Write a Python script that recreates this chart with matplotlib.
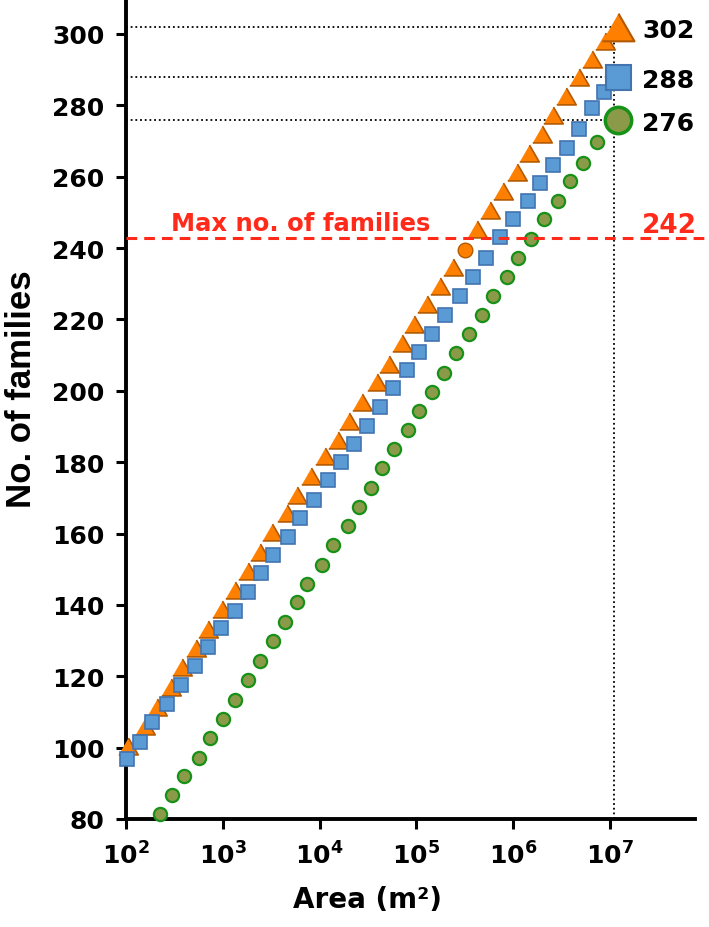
import matplotlib
matplotlib.use("Agg")
import matplotlib.pyplot as plt
from matplotlib.ticker import NullLocator
import numpy as np

# log10(area) and number of families
tri_log = [2.02, 2.20, 2.32, 2.46, 2.58, 2.72, 2.85, 2.99, 3.13, 3.26, 3.39, 3.51, 3.66,
           3.77, 3.91, 4.06, 4.19, 4.31, 4.44, 4.59, 4.72, 4.85, 4.98, 5.11, 5.25, 5.38,
           5.63, 5.76, 5.90, 6.04, 6.17, 6.30, 6.41, 6.55, 6.68, 6.82, 6.95]
tri_y = [100.4, 106.0, 111.4, 117.0, 122.6, 127.9, 133.2, 138.8, 144.2, 149.5, 154.8, 160.4,
         165.8, 170.8, 176.1, 181.7, 186.2, 191.5, 196.9, 202.5, 207.5, 213.4, 218.7, 224.3,
         229.4, 234.7, 245.3, 250.7, 256.0, 261.3, 266.6, 272.0, 277.3, 282.6, 287.9, 293.0,
         298.0]
tri_cross_log = 5.50
tri_cross_y = 239.5

sq_log = [2.01, 2.14, 2.27, 2.42, 2.57, 2.71, 2.85, 2.98, 3.13, 3.26, 3.40, 3.52, 3.67, 3.80,
          3.94, 4.09, 4.22, 4.36, 4.49, 4.63, 4.76, 4.90, 5.03, 5.16, 5.30, 5.45, 5.59, 5.72,
          5.87, 6.00, 6.15, 6.28, 6.41, 6.56, 6.68, 6.82, 6.94]
sq_y = [96.8, 101.6, 107.2, 112.2, 117.5, 122.9, 128.2, 133.5, 138.3, 143.6, 148.9, 154.0,
        159.0, 164.3, 169.4, 175.0, 180.0, 185.1, 190.1, 195.5, 200.8, 205.8, 210.9, 215.9,
        221.2, 226.6, 231.9, 237.2, 243.1, 248.1, 253.2, 258.2, 263.3, 268.0, 273.4, 279.3,
        283.7]

circ_log = [2.35, 2.48, 2.60, 2.75, 2.87, 3.00, 3.13, 3.26, 3.39, 3.52, 3.64, 3.77, 3.87,
            4.03, 4.14, 4.29, 4.41, 4.53, 4.65, 4.77, 4.91, 5.03, 5.16, 5.29, 5.41, 5.54,
            5.68, 5.79, 5.94, 6.05, 6.19, 6.32, 6.46, 6.59, 6.72, 6.87]
circ_y = [81.4, 86.7, 92.0, 97.1, 102.7, 108.0, 113.3, 118.9, 124.3, 129.9, 135.2, 140.8,
          145.9, 151.2, 156.8, 162.1, 167.4, 172.8, 178.4, 183.7, 189.0, 194.3, 199.7, 205.0,
          210.6, 215.9, 221.2, 226.6, 231.9, 237.2, 242.5, 248.1, 253.2, 258.8, 263.8, 269.7]

end_log = 7.09
end_vals = [302, 288, 276]
ref_log = 7.04

max_line_y = 242.8
max_label = "242"
max_text = "Max no. of families"

yticks = [80, 100, 120, 140, 160, 180, 200, 220, 240, 260, 280, 300]
xtick_exp = [2, 3, 4, 5, 6, 7]

ORANGE, ORANGE_EDGE = "#ff8000", "#b35900"
BLUE, BLUE_EDGE = "#5b9bd5", "#4274b0"
GREEN, GREEN_EDGE = "#8a9a48", "#179117"
RED = "#ff2a1a"

# flatter triangle than matplotlib's "^"
TRI = [(-1, -0.866), (1, -0.866), (0, 0.866)]

plt.rcParams["font.family"] = ["DejaVu Sans"]
plt.rcParams["font.weight"] = "bold"
plt.rcParams["mathtext.fontset"] = "custom"
plt.rcParams["mathtext.rm"] = "DejaVu Sans:bold"
plt.rcParams["mathtext.it"] = "DejaVu Sans:bold"
plt.rcParams["mathtext.bf"] = "DejaVu Sans:bold"

fig = plt.figure(figsize=(7.09, 9.28), dpi=100)
ax = fig.add_axes([126 / 709, 1 - 820 / 928, (695 - 126) / 709, 820 / 928])
ax.set_xscale("log")

ref_area = 10 ** ref_log
end_area = 10 ** end_log

# guide lines
dot = dict(color="black", lw=1.3, linestyle=(0, (1, 1.6)), zorder=1)
for v in end_vals:
    ax.plot([1e2, ref_area], [v, v], **dot)
ax.plot([ref_area, ref_area], [80, end_vals[0]], clip_on=False, **dot)

ax.plot(10 ** np.array(tri_log), tri_y, marker=TRI, ms=14, mfc=ORANGE, mec=ORANGE_EDGE,
        mew=1.2, ls="none", zorder=3, clip_on=False)
ax.plot(10 ** tri_cross_log, tri_cross_y, "o", ms=10.5, mfc=ORANGE, mec=ORANGE_EDGE,
        mew=1.0, zorder=3)
ax.plot(10 ** np.array(sq_log), sq_y, "s", ms=9.5, mfc=BLUE, mec=BLUE_EDGE,
        mew=1.2, ls="none", zorder=4, clip_on=False)
ax.plot(10 ** np.array(circ_log), circ_y, "o", ms=9.5, mfc=GREEN, mec=GREEN_EDGE,
        mew=1.6, ls="none", zorder=5, clip_on=False)

ax.plot(end_area, end_vals[0], marker=TRI, ms=23, mfc=ORANGE, mec=ORANGE_EDGE, mew=1.5,
        zorder=6, clip_on=False)
ax.plot(end_area, end_vals[1], "s", ms=18, mfc=BLUE, mec=BLUE_EDGE, mew=1.5,
        zorder=6, clip_on=False)
ax.plot(end_area, end_vals[2], "o", ms=19, mfc=GREEN, mec=GREEN_EDGE, mew=2.5,
        zorder=6, clip_on=False)

for v in end_vals:
    ax.text(10 ** 7.334, v - 2.9, str(v), fontsize=18, fontweight="bold", ha="left",
            va="baseline", color="black")

# max number of families
ax.axhline(max_line_y, xmin=0, xmax=1.03, color=RED, lw=2.2,
           linestyle=(0, (3.5, 2.3)), zorder=7, clip_on=False)
ax.text(10 ** 3.81, 245.0, max_text, color=RED, fontsize=17.5, fontweight="bold",
        ha="center", va="baseline")
ax.text(10 ** 7.334, 244.6, max_label, color=RED, fontsize=19, fontweight="bold",
        ha="left", va="baseline")

ax.set_xlim(1e2, 10 ** 7.881)
ax.set_ylim(80, 309.8)
ax.set_yticks(yticks)
ax.set_xticks([10.0 ** e for e in xtick_exp])
ax.set_xticklabels([rf"$10^{{{e}}}$" for e in xtick_exp])
ax.xaxis.set_minor_locator(NullLocator())
ax.tick_params(axis="both", which="major", direction="out", length=7, width=2.2,
               labelsize=18)
ax.tick_params(axis="y", pad=8.5)
ax.tick_params(axis="x", pad=9)

for side in ("top", "right"):
    ax.spines[side].set_visible(False)
for side in ("left", "bottom"):
    ax.spines[side].set_linewidth(2.8)

ax.set_ylabel("No. of families", fontsize=25, fontweight="bold",
              family=["Liberation Sans", "DejaVu Sans"])
ax.yaxis.set_label_coords(-0.155, 0.525)
ax.set_xlabel("Area (m²)", fontsize=20, fontweight="bold")
ax.xaxis.set_label_coords(0.425, -0.080)

fig.savefig("out.png", dpi=100)
